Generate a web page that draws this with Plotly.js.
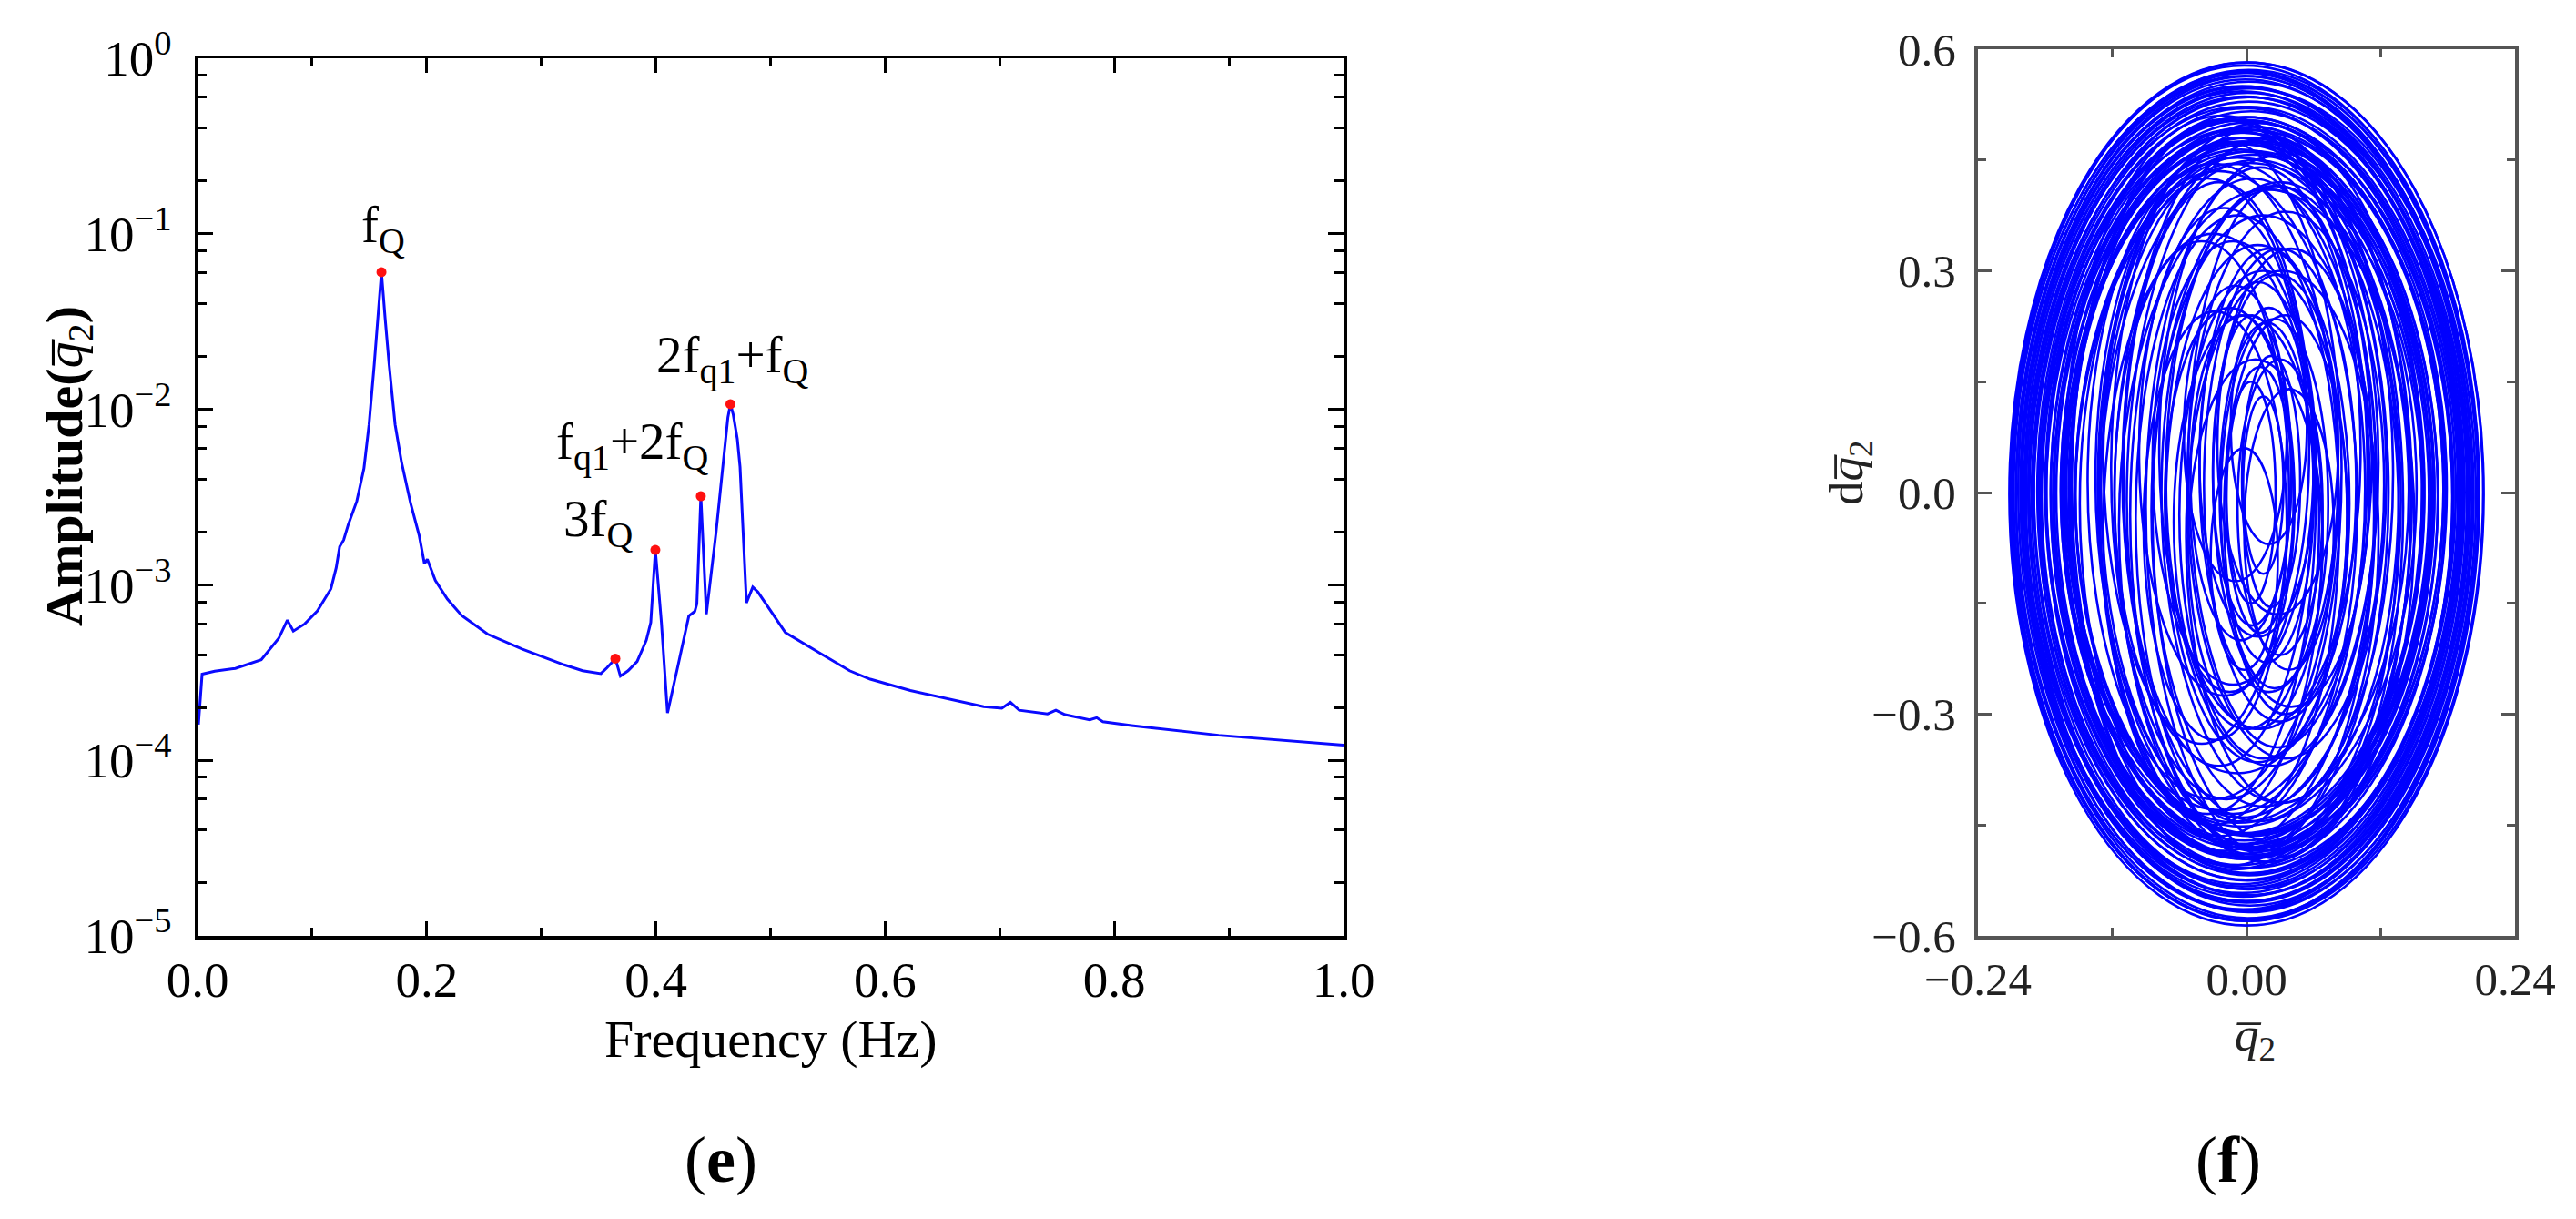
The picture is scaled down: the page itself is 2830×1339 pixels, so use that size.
<!DOCTYPE html>
<html><head><meta charset="utf-8">
<script src="https://cdn.plot.ly/plotly-3.0.1.min.js"></script>
<style>html,body{margin:0;padding:0;background:#fff;}#chart{width:2830px;height:1339px;}</style>
</head><body><div id="chart"></div>
<script>
// ---- panel (e): amplitude spectrum ----
const freqHz = [0.0008,0.004,0.015,0.033,0.0556,0.0708,0.0784,0.0836,0.0937,0.1046,0.1164,0.121,0.124,0.1275,0.1315,0.139,0.1452,0.1497,0.1542,0.1573,0.1605,0.1637,0.1672,0.1724,0.178,0.186,0.1935,0.198,0.2005,0.2075,0.218,0.2304,0.2531,0.2836,0.304,0.320,0.336,0.352,0.3573,0.3646,0.369,0.3757,0.3836,0.3916,0.3955,0.3995,0.4048,0.4101,0.4194,0.4287,0.4339,0.4357,0.4392,0.444,0.4525,0.4604,0.4628,0.465,0.4675,0.471,0.4734,0.479,0.4845,0.489,0.513,0.5425,0.569,0.587,0.622,0.686,0.7018,0.7093,0.717,0.7417,0.749,0.757,0.7785,0.7846,0.79,0.815,0.891,1.0];
const amplitude = [1.6e-4,3.1e-4,3.22e-4,3.34e-4,3.74e-4,4.95e-4,6.3e-4,5.45e-4,6.0e-4,7.1e-4,9.5e-4,1.25e-3,1.65e-3,1.8e-3,2.2e-3,3.0e-3,4.6e-3,8.2e-3,1.8e-2,3.3e-2,6.05e-2,3.3e-2,1.8e-2,8.2e-3,5.0e-3,2.9e-3,1.9e-3,1.32e-3,1.4e-3,1.06e-3,8.3e-4,6.7e-4,5.24e-4,4.3e-4,3.82e-4,3.5e-4,3.24e-4,3.12e-4,3.37e-4,3.8e-4,3.02e-4,3.24e-4,3.66e-4,4.83e-4,6.1e-4,1.58e-3,6.1e-4,1.86e-4,3.5e-4,6.65e-4,7.06e-4,7.8e-4,3.2e-3,6.8e-4,2.0e-3,6.2e-3,9.0e-3,1.07e-2,9.3e-3,6.8e-3,4.7e-3,7.9e-4,9.7e-4,9.1e-4,5.35e-4,4.1e-4,3.24e-4,2.9e-4,2.5e-4,2.02e-4,1.98e-4,2.14e-4,1.93e-4,1.84e-4,1.93e-4,1.82e-4,1.7e-4,1.75e-4,1.66e-4,1.58e-4,1.39e-4,1.22e-4];
const peakFreq = [0.1605,0.3646,0.3995,0.4392,0.465];
const peakAmp  = [6.05e-2,3.8e-4,1.58e-3,3.2e-3,1.07e-2];
const peakLabels = ['f<sub>Q</sub>','','3f<sub>Q</sub>','f<sub>q1</sub>+2f<sub>Q</sub>','2f<sub>q1</sub>+f<sub>Q</sub>'];
const freqTickVals = [0,0.2,0.4,0.6,0.8,1.0];
const ampTickVals = [1e-5,1e-4,1e-3,1e-2,1e-1,1];
const ampTickText = ['10<sup>−5</sup>','10<sup>−4</sup>','10<sup>−3</sup>','10<sup>−2</sup>','10<sup>−1</sup>','10<sup>0</sup>'];
const ampMinorVals = [2e-5,4e-5,6e-5,8e-5,2e-4,4e-4,6e-4,8e-4,2e-3,4e-3,6e-3,8e-3,2e-2,4e-2,6e-2,8e-2,2e-1,4e-1,6e-1,8e-1];

// ---- panel (f): phase portrait, loops (centre and half-extent) ----
const loopCenterQ = [0.000,-0.002,0.001,-0.003,0.002,-0.001,0.000,-0.004,0.003,-0.002,0.001,-0.005,0.002,-0.001,0.004,-0.003,0.000,-0.006,0.003,-0.002,0.005,-0.004,0.001,-0.007,0.004,-0.002,0.006,-0.005,0.002,-0.008,
 -0.010,0.012,-0.015,0.008,-0.020,0.015,-0.005,0.020,-0.025,0.010,-0.012,0.025,-0.030,0.005,0.030,-0.018,0.015,-0.035,0.022,-0.008,0.035,-0.025,0.010,0.028,-0.040,
 0.015,-0.012,0.030,0.000,0.020,-0.015,0.035,0.010,0.025,-0.005,0.018,0.030,0.005,0.012,0.022,0.004,0.015,
 0.001,-0.001,0.002,-0.002,0.000,0.003,-0.003,0.001,-0.004,0.002,-0.001,0.003,-0.002,0.004,-0.005,0.002,-0.003,0.005,
 -0.022,0.018,-0.008,0.026,-0.030,0.012,0.032,-0.020,0.040,-0.028,0.008,0.028,-0.010,0.038,0.020,-0.002];
const loopCenterV = [-0.002,0.000,-0.004,0.002,-0.006,0.003,-0.003,0.004,-0.005,0.000,0.005,-0.004,0.002,-0.008,0.004,-0.002,0.006,-0.006,0.001,-0.003,0.004,-0.007,0.002,-0.002,0.005,-0.005,0.000,0.006,-0.008,0.003,
 -0.010,0.010,0.000,-0.020,0.010,-0.005,0.020,-0.010,-0.015,0.025,0.005,-0.020,0.015,-0.030,0.000,0.030,-0.025,-0.005,0.020,-0.035,0.010,0.025,-0.015,0.035,0.000,
 -0.030,0.040,0.010,-0.040,0.030,-0.010,-0.030,0.045,-0.015,0.020,0.000,-0.020,0.030,-0.010,0.015,0.000,0.010,
 0.001,-0.005,0.003,-0.001,0.004,-0.006,0.001,-0.002,0.005,-0.004,0.002,-0.007,0.004,-0.001,0.003,-0.005,0.007,-0.003,
 0.040,-0.045,0.050,-0.030,-0.050,0.060,-0.060,0.055,0.020,-0.045,-0.070,0.065,0.080,-0.050,0.090,-0.090];
const loopHalfQ = [0.212,0.209,0.207,0.205,0.203,0.201,0.199,0.197,0.195,0.193,0.191,0.189,0.187,0.185,0.183,0.181,0.179,0.177,0.175,0.173,0.171,0.169,0.167,0.165,0.163,0.161,0.159,0.157,0.155,0.153,
 0.148,0.145,0.142,0.139,0.136,0.133,0.130,0.127,0.124,0.121,0.118,0.115,0.112,0.109,0.106,0.103,0.100,0.097,0.094,0.091,0.088,0.085,0.082,0.080,0.078,
 0.075,0.072,0.068,0.065,0.062,0.058,0.055,0.052,0.048,0.045,0.042,0.038,0.035,0.030,0.026,0.022,0.018,
 0.2105,0.208,0.206,0.204,0.202,0.200,0.198,0.196,0.194,0.192,0.186,0.182,0.178,0.174,0.170,0.166,0.162,0.158,
 0.140,0.132,0.120,0.110,0.098,0.090,0.086,0.076,0.070,0.064,0.060,0.054,0.046,0.040,0.034,0.030];
const loopHalfV = [0.584,0.578,0.572,0.566,0.562,0.556,0.550,0.546,0.540,0.536,0.530,0.526,0.520,0.516,0.512,0.506,0.502,0.498,0.494,0.490,0.486,0.482,0.478,0.474,0.470,0.466,0.462,0.458,0.454,0.450,
 0.500,0.490,0.505,0.470,0.495,0.480,0.460,0.490,0.450,0.470,0.440,0.475,0.430,0.455,0.420,0.445,0.400,0.430,0.390,0.410,0.370,0.395,0.350,0.380,0.340,
 0.330,0.300,0.320,0.280,0.300,0.260,0.270,0.240,0.250,0.220,0.230,0.200,0.210,0.180,0.170,0.150,0.120,
 0.581,0.575,0.569,0.565,0.559,0.553,0.548,0.543,0.538,0.533,0.518,0.508,0.500,0.492,0.484,0.476,0.468,0.460,
 0.470,0.455,0.430,0.445,0.400,0.380,0.360,0.330,0.310,0.290,0.250,0.230,0.200,0.190,0.160,0.150];
const qTickVals = [-0.24,0,0.24];
const qMinorVals = [-0.12,0.12];

// ---- layout geometry (pixels) ----
const W = 2830, H = 1339;
const FONT = 'Liberation Serif, Times New Roman, serif';
const BLUE = '#0a0aff';
const px = v => v / W, py = v => 1 - v / H;

const traces = [
  {type:'scatter', mode:'lines', x:freqHz, y:amplitude, xaxis:'x', yaxis:'y',
   line:{color:BLUE, width:3}, hoverinfo:'skip'},
  {type:'scatter', mode:'markers', x:peakFreq, y:peakAmp, xaxis:'x', yaxis:'y',
   marker:{color:'#ff1010', size:11}, hoverinfo:'skip'},
  {type:'scatter', mode:'markers', x:[], y:[], xaxis:'x2', yaxis:'y2'}
];

const shapes = loopCenterQ.map((c, i) => ({
  type:'circle', xref:'x2', yref:'y2',
  x0: c - loopHalfQ[i], x1: c + loopHalfQ[i],
  y0: loopCenterV[i] - loopHalfV[i], y1: loopCenterV[i] + loopHalfV[i],
  line:{color:'#0000ff', width:2.6}, fillcolor:'rgba(0,0,0,0)', layer:'above'
}));

const labelOffsets = [[2,48],[0,0],[-63,30],[-75,56],[3,50]];
const annotations = [];
peakLabels.forEach((t, i) => {
  if (!t) return;
  annotations.push({xref:'x', yref:'y', x:peakFreq[i], y:Math.log10(peakAmp[i]), text:t,
    showarrow:false, xanchor:'center', yanchor:'middle',
    xshift:labelOffsets[i][0], yshift:labelOffsets[i][1],
    font:{family:FONT, size:57, color:'#000'}});
});
annotations.push(
  {xref:'paper', yref:'paper', x:px(847), y:py(1141), text:'Frequency (Hz)', showarrow:false,
   xanchor:'center', yanchor:'middle', font:{family:FONT, size:58, color:'#000'}},
  {xref:'paper', yref:'paper', x:px(74), y:py(512), text:'<b>Amplitude(</b><i>q\u0305</i><sub>2</sub><b>)</b>', showarrow:false,
   textangle:-90, xanchor:'center', yanchor:'middle', font:{family:FONT, size:58, color:'#000'}},
  {xref:'paper', yref:'paper', x:px(2477), y:py(1140), text:'<i>q\u0305</i><sub>2</sub>', showarrow:false,
   xanchor:'center', yanchor:'middle', font:{family:FONT, size:53, color:'#222'}},
  {xref:'paper', yref:'paper', x:px(2032), y:py(519), text:'d<i>q\u0305</i><sub>2</sub>', showarrow:false,
   textangle:-90, xanchor:'center', yanchor:'middle', font:{family:FONT, size:53, color:'#222'}},
  {xref:'paper', yref:'paper', x:px(792), y:py(1274), text:'(<b>e</b>)', showarrow:false,
   xanchor:'center', yanchor:'middle', font:{family:FONT, size:72, color:'#000'}},
  {xref:'paper', yref:'paper', x:px(2448), y:py(1274), text:'(<b>f</b>)', showarrow:false,
   xanchor:'center', yanchor:'middle', font:{family:FONT, size:72, color:'#000'}}
);

const axLeft = {ticks:'inside', tickwidth:3, tickcolor:'#000', showline:true, linecolor:'#000', linewidth:3.5,
  mirror:'ticks', showgrid:false, zeroline:false, tickfont:{family:FONT, size:55, color:'#000'}};
const axRight = {ticks:'inside', tickwidth:3, tickcolor:'#555', showline:true, linecolor:'#555', linewidth:4,
  mirror:'ticks', showgrid:false, zeroline:false, tickfont:{family:FONT, size:51, color:'#222'}};

const layout = {
  width:W, height:H, margin:{l:0, r:0, t:0, b:0, autoexpand:false},
  paper_bgcolor:'#fff', plot_bgcolor:'#fff', showlegend:false,
  xaxis: Object.assign({}, axLeft, {domain:[px(217), px(1476)], range:[0,1], anchor:'y',
    tickmode:'array', tickvals:freqTickVals, tickformat:'.1f', ticklen:16, ticklabelstandoff:-3,
    minor:{dtick:0.1, tick0:0, ticks:'inside', ticklen:9, tickwidth:3, tickcolor:'#000'}}),
  yaxis: Object.assign({}, axLeft, {domain:[py(1028), py(64)], type:'log', range:[-5,0], anchor:'x',
    tickmode:'array', tickvals:ampTickVals, ticktext:ampTickText, ticklen:17, ticklabelstandoff:14,
    minor:{tickmode:'array', tickvals:ampMinorVals, ticks:'inside', ticklen:10, tickwidth:3, tickcolor:'#000'}}),
  xaxis2: Object.assign({}, axRight, {domain:[px(2173), px(2763)], range:[-0.24,0.24], anchor:'y2',
    tickmode:'array', tickvals:qTickVals, tickformat:'.2f', ticklen:15,
    minor:{tickmode:'array', tickvals:qMinorVals, ticks:'inside', ticklen:9, tickwidth:3, tickcolor:'#555'}}),
  yaxis2: Object.assign({}, axRight, {domain:[py(1028), py(54)], range:[-0.6,0.6], anchor:'x2',
    tickmode:'linear', tick0:-0.6, dtick:0.3, tickformat:'.1f', ticklen:15, ticklabelstandoff:10,
    minor:{dtick:0.15, tick0:-0.6, ticks:'inside', ticklen:9, tickwidth:3, tickcolor:'#555'}}),
  shapes: shapes,
  annotations: annotations
};

Plotly.newPlot('chart', traces, layout, {staticPlot:true, displayModeBar:false});
</script>
</body></html>
